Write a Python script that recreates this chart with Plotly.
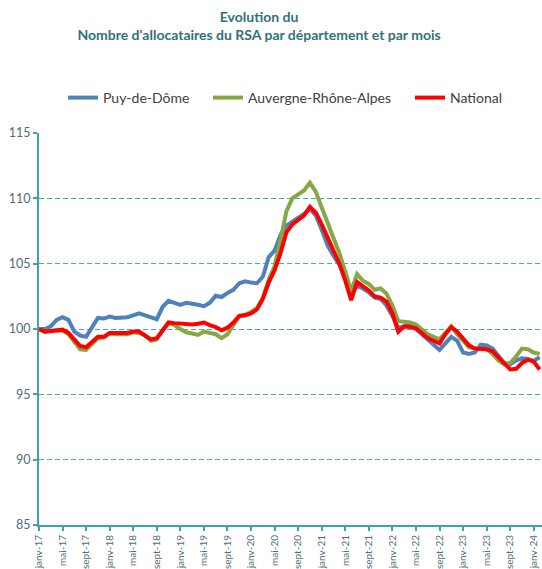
import plotly.graph_objects as go

month_abbr = ["janv", "févr", "mars", "avr", "mai", "juin", "juil", "août", "sept", "oct", "nov", "déc"]
years = ["17", "18", "19", "20", "21", "22", "23", "24"]
categories = [f"{m}-{y}" for y in years for m in month_abbr][:86]

puy_de_dome = [100.0, 100.0, 100.2, 100.7, 100.9, 100.7, 99.8, 99.5, 99.4, 100.1,
               100.85, 100.8, 100.95, 100.85, 100.85, 100.9, 101.05, 101.2, 101.05, 100.9,
               100.75, 101.7, 102.15, 102.0, 101.85, 102.0, 101.95, 101.85, 101.75, 102.0,
               102.55, 102.45, 102.75, 103.0, 103.5, 103.65, 103.55, 103.5, 104.0, 105.5,
               106.0, 107.2, 107.9, 108.2, 108.5, 108.8, 109.2, 108.7, 107.6, 106.4,
               105.6, 104.9, 103.9, 102.6, 103.3, 103.1, 102.8, 102.4, 102.3, 101.8,
               101.0, 100.1, 100.2, 100.3, 100.0, 99.6, 99.2, 98.9, 98.4, 98.9,
               99.4, 99.1, 98.2, 98.1, 98.2, 98.8, 98.75, 98.5, 97.9, 97.4,
               97.3, 97.6, 97.75, 97.7, 97.55, 97.85]

auvergne_rhone_alpes = [100.0, 99.8, 99.85, 99.9, 99.9, 99.6, 99.0, 98.45, 98.4, 98.9,
                        99.3, 99.35, 99.65, 99.6, 99.6, 99.6, 99.75, 99.7, 99.5, 99.1,
                        99.2, 99.9, 100.45, 100.3, 100.0, 99.75, 99.65, 99.55, 99.8, 99.7,
                        99.6, 99.3, 99.6, 100.3, 101.0, 101.1, 101.3, 101.6, 102.4, 103.8,
                        104.8, 106.8, 109.0, 110.0, 110.3, 110.6, 111.2, 110.5, 109.3, 108.2,
                        107.0, 105.8, 104.4, 102.9, 104.2, 103.7, 103.45, 103.0, 103.1, 102.7,
                        101.8, 100.6, 100.55, 100.5, 100.35, 100.0, 99.6, 99.4, 99.2, 99.7,
                        100.2, 99.6, 99.1, 98.6, 98.5, 98.5, 98.45, 98.1, 97.6, 97.3,
                        97.4, 97.9, 98.5, 98.45, 98.2, 98.1]

national = [100.0, 99.8, 99.85, 99.9, 99.95, 99.7, 99.2, 98.7, 98.6, 99.0,
            99.4, 99.4, 99.7, 99.7, 99.7, 99.7, 99.8, 99.8, 99.5, 99.2,
            99.3, 99.9, 100.5, 100.45, 100.4, 100.4, 100.35, 100.4, 100.5, 100.3,
            100.15, 99.9, 100.1, 100.5, 101.0, 101.05, 101.2, 101.5, 102.3, 103.55,
            104.5, 105.8, 107.4, 108.0, 108.35, 108.7, 109.35, 108.9, 108.0, 107.0,
            106.0, 105.0, 103.7, 102.2, 103.6, 103.25, 102.95, 102.5, 102.4, 102.1,
            101.2, 99.8, 100.2, 100.15, 100.05, 99.7, 99.3, 99.1, 98.9, 99.6,
            100.15, 99.8, 99.3, 98.75, 98.5, 98.5, 98.45, 98.3, 97.85, 97.3,
            96.9, 96.95, 97.4, 97.65, 97.5, 96.9]

y_ticks = [85, 90, 95, 100, 105, 110, 115]
x_ticks = categories[::4]

teal = "#3FA2AC"
grid = "#4AAAB5"
label_col = "#4E6E76"

W, H = 542, 569
L, R, T, B = 39, 0, 133, 44
plot_h = H - T - B
plot_w = W - L - R

fig = go.Figure()
series = [("Puy-de-Dôme", puy_de_dome, "#4F81BD", "legend", 63),
          ("Auvergne-Rhône-Alpes", auvergne_rhone_alpes, "#86A844", "legend2", 208),
          ("National", national, "#FF0000", "legend3", 410)]
leg_font = dict(family="Lato, Arial", size=14, color="#404040")
legends = {}
for name, vals, col, leg, px in series:
    fig.add_trace(go.Scatter(x=categories, y=vals, mode="lines", name=name,
                             line=dict(color=col, width=4), legend=leg))
    legends[leg] = dict(orientation="h", x=(px - L) / plot_w, xanchor="left",
                        y=(H - B - 98) / plot_h, yanchor="middle",
                        font=leg_font, bgcolor="rgba(0,0,0,0)")

fig.update_layout(
    width=W, height=H,
    paper_bgcolor="white", plot_bgcolor="white",
    margin=dict(l=L, r=R, t=T, b=B, autoexpand=False),
    title=dict(text="Evolution du<br>Nombre d'allocataires du RSA par département et par mois",
               x=0.478, xanchor="center", y=1 - 22 / H, yanchor="top",
               font=dict(family="Lato, Arial", size=14, color="#31717C", weight="bold")),
    showlegend=True,
    **legends,
)

fig.update_xaxes(type="category", range=[0, 85.4], tickmode="array", tickvals=x_ticks,
                 ticktext=x_ticks, tickangle=-90, ticks="outside", ticklen=4,
                 tickcolor=teal, tickwidth=1.5,
                 showline=True, linecolor=teal, linewidth=2, showgrid=False,
                 tickfont=dict(family="Lato, Arial", size=10, color=label_col),
                 automargin=False)
fig.update_yaxes(range=[85, 115], tickvals=y_ticks, ticks="outside", ticklen=4,
                 tickcolor=teal, tickwidth=1.5,
                 showline=True, linecolor=teal, linewidth=2,
                 showgrid=True, gridcolor=grid, griddash="5px,3px", gridwidth=1.2,
                 zeroline=False,
                 tickfont=dict(family="Lato, Arial", size=12.5, color=label_col),
                 automargin=False)

fig.write_html("out.html", config={"displayModeBar": False},
               post_script="document.body.style.margin='0px';")
